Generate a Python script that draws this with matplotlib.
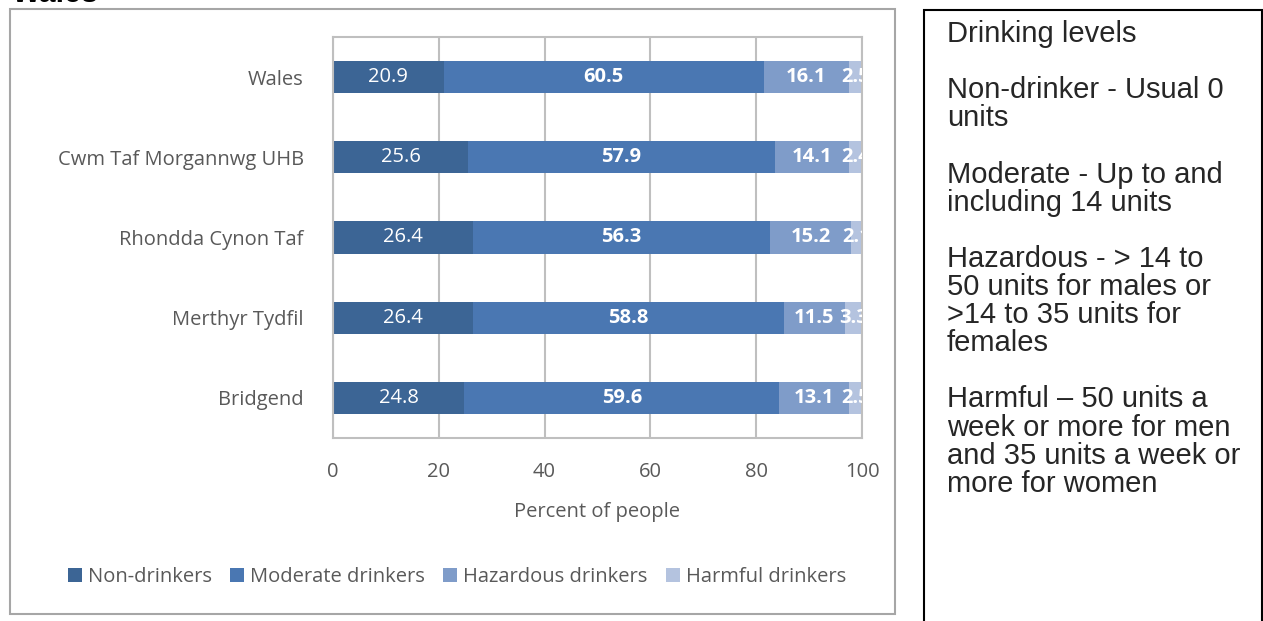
import matplotlib.pyplot as plt
import numpy as np
from matplotlib.patches import Rectangle

areas = ['Wales', 'Cwm Taf Morgannwg UHB', 'Rhondda Cynon Taf', 'Merthyr Tydfil', 'Bridgend']
non_drinkers = [20.9, 25.6, 26.4, 26.4, 24.8]
moderate = [60.5, 57.9, 56.3, 58.8, 59.6]
hazardous = [16.1, 14.1, 15.2, 11.5, 13.1]
harmful = [2.5, 2.4, 2.1, 3.3, 2.5]
series_names = ['Non-drinkers', 'Moderate drinkers', 'Hazardous drinkers', 'Harmful drinkers']
x_ticks = [0, 20, 40, 60, 80, 100]

notes = ("Drinking levels\n\n"
         "Non-drinker - Usual 0\nunits\n\n"
         "Moderate - Up to and\nincluding 14 units\n\n"
         "Hazardous - > 14 to\n50 units for males or\n>14 to 35 units for\nfemales\n\n"
         "Harmful \u2013 50 units a\nweek or more for men\nand 35 units a week or\nmore for women")

colors = ['#3c6595', '#4a77b2', '#7f9cc9', '#b4c3df']
weights = ['normal', 'bold', 'bold', 'bold']
grey_txt = '#595959'
font = 'Open Sans'
fs = 14.5

W, H = 1263, 621
fig = plt.figure(figsize=(W / 100, H / 100), dpi=100)

# plot area in pixel terms
left, right, top, bottom = 333, 862, 37, 438
ax = fig.add_axes([left / W, 1 - bottom / H, (right - left) / W, (bottom - top) / H])

y = np.arange(len(areas))
series = [non_drinkers, moderate, hazardous, harmful]
starts = np.zeros(len(areas))
for vals, name, c, fw in zip(series, series_names, colors, weights):
    vals = np.array(vals)
    ax.barh(y, vals, left=starts, height=0.4, color=c, label=name, zorder=2)
    for yi, s, v in zip(y, starts, vals):
        ax.text(s + v / 2, yi, f'{v:.1f}', ha='center', va='center', color='white',
                fontsize=fs, fontweight=fw, family=font, clip_on=True, zorder=3)
    starts = starts + vals

ax.set_xlim(0, 100)
ax.set_ylim(-0.5, len(areas) - 0.5)
ax.invert_yaxis()
ax.set_xticks(x_ticks)
ax.set_yticks(y)
ax.set_yticklabels(areas)
ax.grid(axis='x', color='#bfbfbf', lw=1.5, zorder=0)
ax.tick_params(length=0, labelsize=fs, labelcolor=grey_txt)
ax.tick_params(axis='x', pad=17)
ax.tick_params(axis='y', pad=21)
for lab in ax.get_xticklabels() + ax.get_yticklabels():
    lab.set_family(font)
for sp in ax.spines.values():
    sp.set_color('#bfbfbf')
    sp.set_linewidth(1.5)

fig.text((left + right) / 2 / W, 1 - 512 / H, 'Percent of people', ha='center', va='center',
         fontsize=fs, color=grey_txt, family=font)

handles, labels = ax.get_legend_handles_labels()
fig.legend(handles, labels, loc='center', bbox_to_anchor=(457 / W, 1 - 577 / H), ncol=4,
           frameon=False, prop={'family': font, 'size': fs}, labelcolor=grey_txt,
           handlelength=0.7, handleheight=0.7, handletextpad=0.3, columnspacing=0.9)

# chart border and note box
fig.patches.append(Rectangle((10 / W, 1 - 614 / H), 885 / W, 605 / H, transform=fig.transFigure,
                             fill=False, edgecolor='#a6a6a6', lw=1.5))
fig.patches.append(Rectangle((924 / W, -0.05), 338 / W, 1.05 - 10 / H, transform=fig.transFigure,
                             fill=False, edgecolor='black', lw=1.5))

fig.text(947 / W, 1 - 20 / H, notes, ha='left', va='top', fontsize=21,
         family='Liberation Sans', color='#262626', linespacing=1.005)

# title cut by the top edge
fig.text(12 / W, 1 - 2 / H, 'Wales', ha='left', va='baseline', fontsize=22,
         fontweight='bold', family='Liberation Sans', color='black')

fig.savefig('out.png', dpi=100)
